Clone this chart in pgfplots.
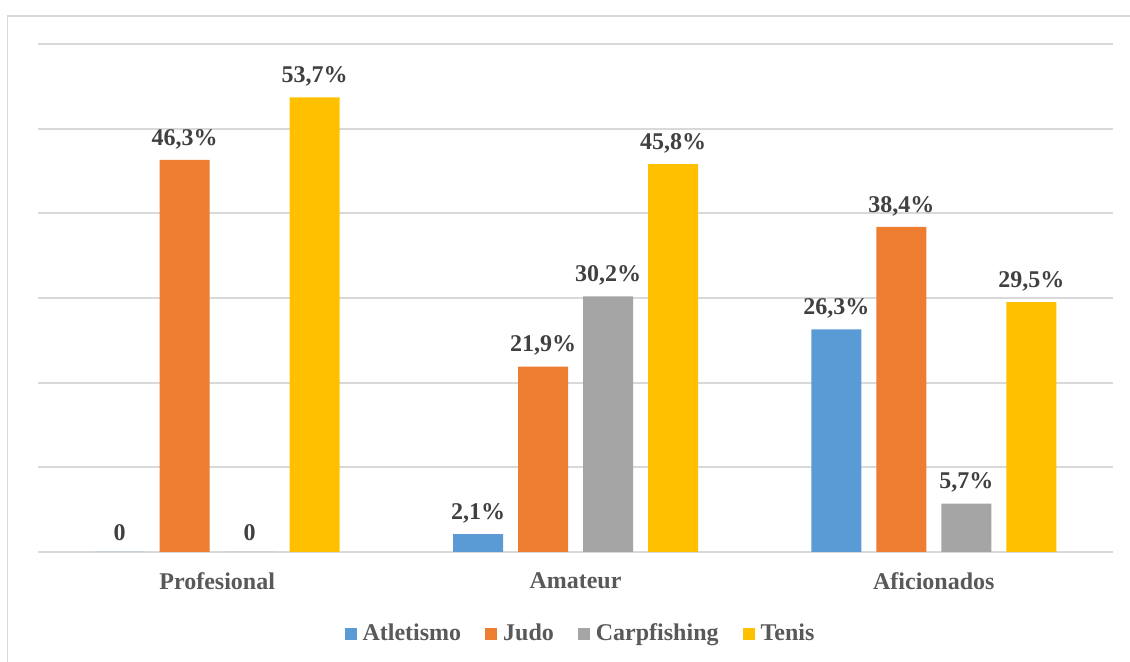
\documentclass[border=0pt]{standalone}
\usepackage{fontspec}
\setmainfont{Liberation Serif}
\usepackage{pgfplots}
\pgfplotsset{compat=1.18}

\definecolor{cAtl}{HTML}{5B9BD5}
\definecolor{cJudo}{HTML}{ED7D31}
\definecolor{cCarp}{HTML}{A5A5A5}
\definecolor{cTenis}{HTML}{FFC000}
\definecolor{gridgray}{HTML}{D9D9D9}
\definecolor{lblgray}{HTML}{404040}
\definecolor{txtgray}{HTML}{595959}

\begin{document}
\begin{tikzpicture}
\useasboundingbox (0,0) rectangle (565pt,-331pt);
% outer chart frame
\draw[gridgray, line width=0.8pt] (3.75pt,-345pt) -- (3.75pt,-8pt) -- (575pt,-8pt);
\begin{axis}[
  at={(19pt,-22pt)}, anchor=north west,
  scale only axis, width=537.5pt, height=254pt,
  ymin=0, ymax=60, xmin=-0.5, xmax=2.5,
  ytick={0,10,...,60}, yticklabels={},
  xtick={0,1,2}, xticklabels={Profesional,Amateur,Aficionados},
  axis line style={draw=none},
  major tick length=0pt,
  ymajorgrids, major grid style={gridgray, line width=1pt},
  ybar=7.5pt, bar width=25pt,
  every axis plot/.append style={draw=none},
  xticklabel style={font=\fontsize{12}{14}\selectfont\bfseries, text=txtgray, yshift=-7pt},
  point meta=explicit symbolic,
  nodes near coords={\pgfplotspointmeta},
  nodes near coords style={font=\fontsize{12}{14}\selectfont\bfseries, text=lblgray, anchor=south, yshift=2pt},
  legend columns=4,
  legend style={at={(0.5,-0.157)}, anchor=center, draw=none, xshift=3pt, yshift=-1pt,
    font=\fontsize{12}{14}\selectfont\bfseries, text=txtgray,
    column sep=1pt, /tikz/every even column/.append style={column sep=10pt}},
  legend image code/.code={\fill[#1] (0pt,-3pt) rectangle (6pt,3pt);},
]
\addplot[fill=cAtl] coordinates {(0,0) [0] (1,2.1) [{2,1\%}] (2,26.3) [{26,3\%}]};
\addplot[fill=cJudo] coordinates {(0,46.3) [{46,3\%}] (1,21.9) [{21,9\%}] (2,38.4) [{38,4\%}]};
\addplot[fill=cCarp] coordinates {(0,0) [0] (1,30.2) [{30,2\%}] (2,5.7) [{5,7\%}]};
\addplot[fill=cTenis] coordinates {(0,53.7) [{53,7\%}] (1,45.8) [{45,8\%}] (2,29.5) [{29,5\%}]};
\legend{Atletismo,Judo,Carpfishing,Tenis}
\end{axis}
\end{tikzpicture}
\end{document}
